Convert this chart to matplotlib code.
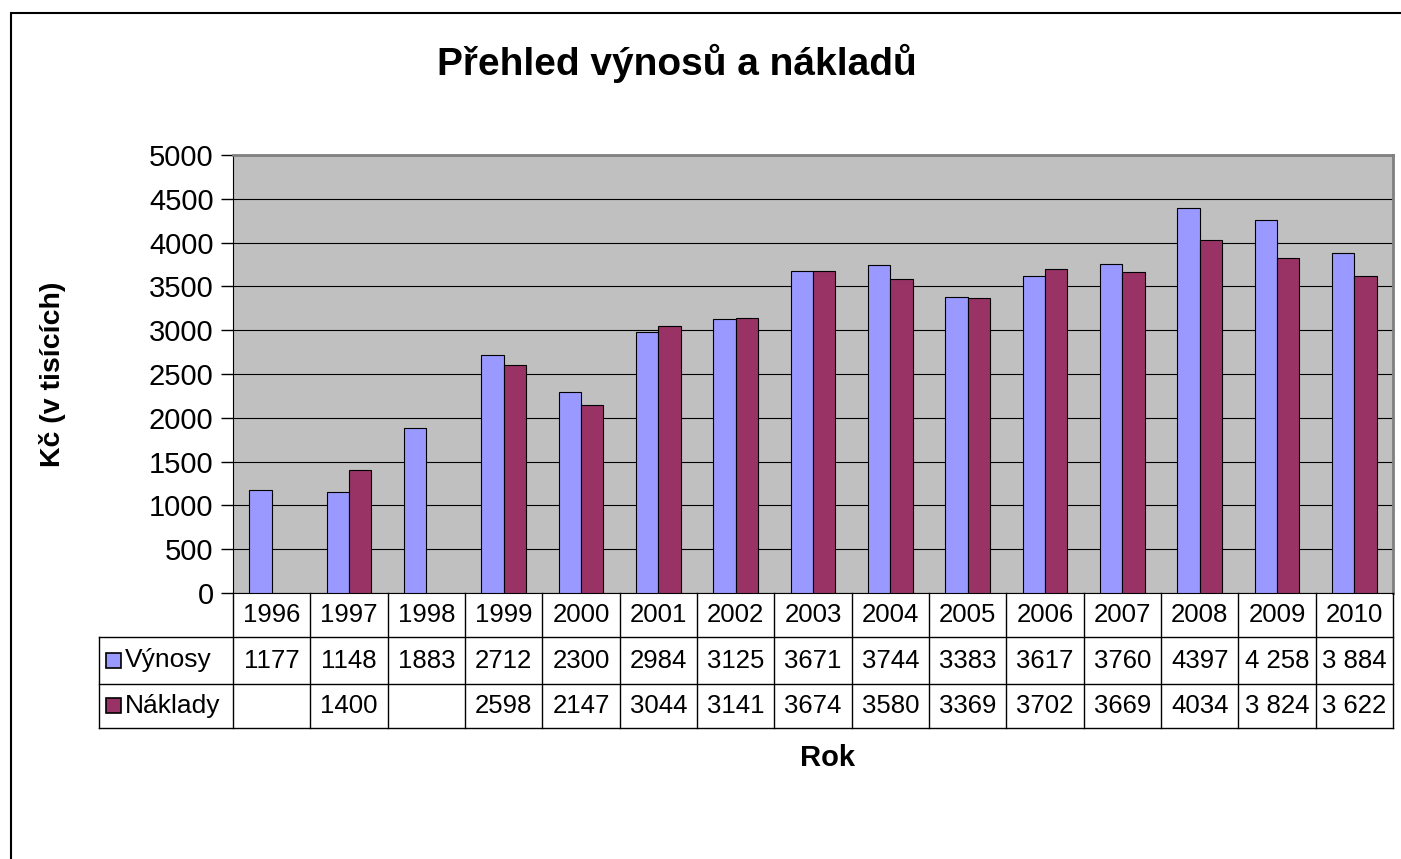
import matplotlib.pyplot as plt
import matplotlib.patches as mpatches
from matplotlib.lines import Line2D
import numpy as np

plt.rcParams['font.family'] = ['Liberation Sans', 'DejaVu Sans']

years = ['1996', '1997', '1998', '1999', '2000', '2001', '2002', '2003',
         '2004', '2005', '2006', '2007', '2008', '2009', '2010']
vynosy = [1177, 1148, 1883, 2712, 2300, 2984, 3125, 3671, 3744, 3383,
          3617, 3760, 4397, 4258, 3884]
naklady = [np.nan, 1400, np.nan, 2598, 2147, 3044, 3141, 3674, 3580, 3369,
           3702, 3669, 4034, 3824, 3622]
vynosy_txt = ['1177', '1148', '1883', '2712', '2300', '2984', '3125', '3671',
              '3744', '3383', '3617', '3760', '4397', '4 258', '3 884']
naklady_txt = ['', '1400', '', '2598', '2147', '3044', '3141', '3674',
               '3580', '3369', '3702', '3669', '4034', '3 824', '3 622']

blue = '#9999ff'
plum = '#993366'

W, H = 1401, 859
fig = plt.figure(figsize=(W / 100, H / 100), dpi=100)

def fx(px):
    return px / W

def fy(py):
    return 1 - py / H

# outer chart frame (runs off the right and bottom edge)
fig.add_artist(mpatches.Rectangle((fx(11), fy(900)), fx(1450) - fx(11), fy(13) - fy(900),
                                  transform=fig.transFigure, fill=False,
                                  edgecolor='black', lw=1.5))

x0, x1, ytop, ybot = 233, 1393, 155, 593
ax = fig.add_axes([fx(x0), fy(ybot), fx(x1) - fx(x0), fy(ytop) - fy(ybot)])
ax.set_facecolor('#c0c0c0')

x = np.arange(len(years))
bw = 0.29
ax.bar(x - bw / 2, vynosy, bw, color=blue, edgecolor='black', lw=0.8, zorder=3)
ax.bar(x + bw / 2, naklady, bw, color=plum, edgecolor='black', lw=0.8, zorder=3)

ax.set_xlim(-0.5, len(years) - 0.5)
ax.set_ylim(0, 5000)
ax.set_yticks(np.arange(0, 5001, 500))
ax.yaxis.grid(True, color='black', lw=0.8, zorder=1)
ax.set_axisbelow(True)
ax.set_xticks([])
ax.tick_params(axis='y', labelsize=21, length=9, width=1, direction='out', pad=5)
for s in ['top', 'right']:
    ax.spines[s].set_color('#808080')
    ax.spines[s].set_linewidth(2)
ax.spines['left'].set_color('black')
ax.spines['bottom'].set_color('black')

# data table under the axis
col_w = (x1 - x0) / len(years)
r0, r1, r2, r3 = 593, 637, 684, 728
lk = dict(color='black', lw=1, transform=fig.transFigure)
for i in range(len(years) + 1):
    xx = x0 + i * col_w
    fig.add_artist(Line2D([fx(xx), fx(xx)], [fy(r0), fy(r3)], **lk))
fig.add_artist(Line2D([fx(99), fx(99)], [fy(r1), fy(r3)], **lk))
for rr in [r1, r2, r3]:
    fig.add_artist(Line2D([fx(99), fx(x1)], [fy(rr), fy(rr)], **lk))

tk = dict(fontsize=18.5, ha='center', va='center', transform=fig.transFigure)
for i, yr in enumerate(years):
    cx = x0 + (i + 0.5) * col_w
    fig.text(fx(cx), fy((r0 + r1) / 2), yr, **tk)
    fig.text(fx(cx), fy((r1 + r2) / 2), vynosy_txt[i], **tk)
    fig.text(fx(cx), fy((r2 + r3) / 2), naklady_txt[i], **tk)

for name, col, rr in [('Výnosy', blue, (r1 + r2) / 2), ('Náklady', plum, (r2 + r3) / 2)]:
    fig.add_artist(mpatches.Rectangle((fx(106), fy(rr + 7)), fx(15), 15 / H,
                                      transform=fig.transFigure, facecolor=col,
                                      edgecolor='black', lw=1.2))
    fig.text(fx(125), fy(rr), name, fontsize=19, ha='left', va='center')

fig.text(fx(677), fy(63), 'Přehled výnosů a nákladů', fontsize=28, fontweight='bold',
         ha='center', va='center')
fig.text(fx(53), fy(374), 'Kč (v tisících)', fontsize=20.5, fontweight='bold',
         rotation=90, ha='center', va='center')
fig.text(fx(828), fy(758), 'Rok', fontsize=21, fontweight='bold', ha='center', va='center')

fig.savefig('out.png', dpi=100)
